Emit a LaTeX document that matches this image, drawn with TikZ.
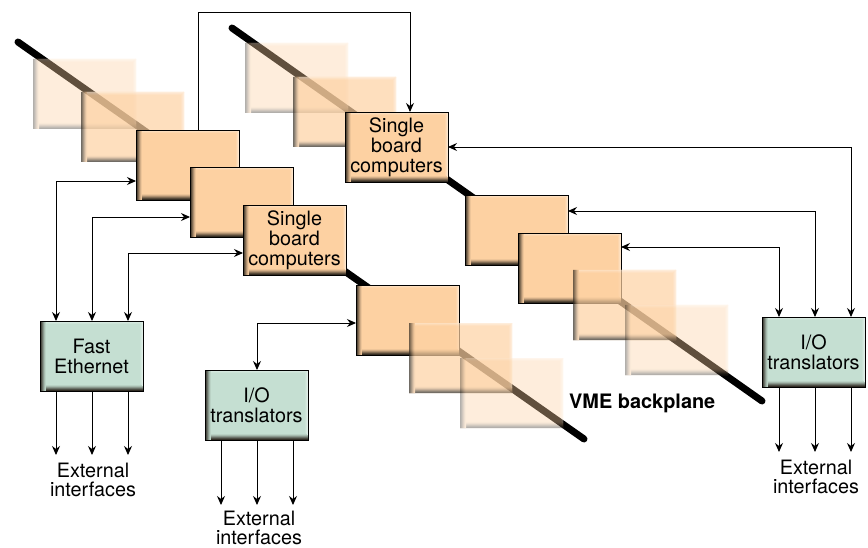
\documentclass[tikz,border=0pt]{standalone}
\usepackage{fontspec}
\setmainfont{TeX Gyre Heros}
\usetikzlibrary{arrows.meta}
\definecolor{boardfill}{HTML}{FDD1A2}
\definecolor{ioface}{HTML}{C5DFD2}
\definecolor{edgedark}{HTML}{2A241C}
\newcommand{\edgestrips}[1]{%
  \foreach \k/\p in {0/95,1/78,2/58,3/38,4/20,5/7}{%
    \fill[edgedark!\p!#1] ([xshift=\k pt]path picture bounding box.north west) rectangle ([xshift=\k pt+1.1pt]path picture bounding box.south west);
    \fill[edgedark!\p!#1] ([xshift=\k pt,yshift=\k pt]path picture bounding box.south west) rectangle ([yshift=\k pt+1.1pt]path picture bounding box.south east);
  }%
  \foreach \k/\p in {0/45,1/28,2/12}{%
    \fill[white!\p!#1] ([xshift=-\k pt-1pt,yshift=-\k pt]path picture bounding box.north east) rectangle ([xshift=-\k pt,yshift=\k pt+5pt]path picture bounding box.south east);
    \fill[white!\p!#1] ([xshift=6pt,yshift=-\k pt]path picture bounding box.north west) rectangle ([xshift=-\k pt,yshift=-\k pt-1pt]path picture bounding box.north east);
  }%
}
\tikzset{
  x=1pt,y=-1pt,
  bevelbox/.style={rectangle,anchor=north west,minimum width=103pt,minimum height=70pt,inner sep=0pt,outer sep=0pt,
    align=center,font=\fontsize{19.8}{20}\selectfont,
    path picture={\edgestrips{#1}}},
  solidboard/.style={bevelbox=boardfill,fill=boardfill,draw=black,line width=0.9pt},
  ghostboard/.style={bevelbox=boardfill,fill=boardfill},
  iobox/.style={bevelbox=ioface,fill=ioface,draw=black,line width=0.9pt},
  backplane/.style={line width=7pt,line cap=round,black},
  biarrow/.style={line width=0.9pt,{Stealth[length=9pt,width=8pt,inset=3pt]}-{Stealth[length=9pt,width=8pt,inset=3pt]}},
  onearrow/.style={line width=0.9pt,-{Stealth[length=9pt,width=8pt,inset=3pt]}},
  caption/.style={align=center,font=\fontsize{19.8}{19.5}\selectfont,inner sep=0pt},
}
\newcommand{\ghostat}[4]{\begin{scope}[transparency group,opacity=#1]\node[ghostboard] (#2) at (#3,#4) {};\end{scope}}
\begin{document}
\begin{tikzpicture}
\useasboundingbox (0,0) rectangle (868,548);
% backplanes
\coordinate (bpLa) at (18,42);
\coordinate (bpLb) at (584,439);
\coordinate (bpRa) at (232,28);
\coordinate (bpRb) at (762,401);
\draw[backplane] (bpLa) -- (bpLb);
\draw[backplane] (bpRa) -- (bpRb);
% left group
\ghostat{.38}{la}{33}{59}
\ghostat{.7}{lb}{81}{92}
\node[solidboard] (l1) at (136,130) {};
\node[solidboard] (l2) at (190,167) {};
\node[solidboard] (l3) at (243,205) {Single\\board\\computers};
\node[solidboard] (l4) at (356,285) {};
\ghostat{.7}{lc}{409}{323}
\ghostat{.38}{ld}{460}{358}
% right group
\ghostat{.38}{ra}{245}{43}
\ghostat{.7}{rb}{293}{77}
\node[solidboard] (r1) at (345,112) {Single\\board\\computers};
\node[solidboard] (r2) at (465,195) {};
\node[solidboard] (r3) at (518,233) {};
\ghostat{.7}{rc}{573}{270}
\ghostat{.38}{rd}{625}{305}
% green boxes
\node[iobox] (fe) at (40,321) {Fast\\Ethernet};
\node[iobox] (io1) at (205,370) {I/O\\translators};
\node[iobox] (io2) at (762,317) {I/O\\translators};
% bend points
\coordinate (topA) at (198,12);
\coordinate (topB) at (410,12);
\coordinate (feA) at (56,181);
\coordinate (feB) at (92,217);
\coordinate (feC) at (128,253);
\coordinate (ioA) at (257,323);
\coordinate (ioR1) at (851,147);
\coordinate (ioR2) at (815,211);
\coordinate (ioR3) at (779,247);
\draw[onearrow] (topA |- l1.north) -- (topA) -- (topB) -- (topB |- r1.north);
\draw[biarrow] (l1.west |- feA) -- (feA) -- (feA |- fe.north);
\draw[biarrow] (l2.west |- feB) -- (feB) -- (feB |- fe.north);
\draw[biarrow] (l3.west |- feC) -- (feC) -- (feC |- fe.north);
\draw[biarrow] (l4.west |- ioA) -- (ioA) -- (ioA |- io1.north);
\draw[biarrow] (r1.east |- ioR1) -- (ioR1) -- (ioR1 |- io2.north);
\draw[biarrow] (r2.east |- ioR2) -- (ioR2) -- (ioR2 |- io2.north);
\draw[biarrow] (r3.east |- ioR3) -- (ioR3) -- (ioR3 |- io2.north);
% outputs
\coordinate (feOa) at (56,455);
\coordinate (feOb) at (92,455);
\coordinate (feOc) at (128,455);
\coordinate (ioOa) at (221,505);
\coordinate (ioOb) at (257,505);
\coordinate (ioOc) at (293,505);
\coordinate (ioPa) at (779,452);
\coordinate (ioPb) at (815,452);
\coordinate (ioPc) at (851,452);
\foreach \c in {feOa,feOb,feOc} \draw[onearrow] (fe.south -| \c) -- (\c);
\foreach \c in {ioOa,ioOb,ioOc} \draw[onearrow] (io1.south -| \c) -- (\c);
\foreach \c in {ioPa,ioPb,ioPc} \draw[onearrow] (io2.south -| \c) -- (\c);
% captions
\node[caption] (capa) at (93,480) {External\\interfaces};
\node[caption] (capb) at (259,528) {External\\interfaces};
\node[caption] (capc) at (816,477) {External\\interfaces};
\node[caption,anchor=west,font=\fontsize{19.9}{20}\selectfont\bfseries] (vme) at (569,403) {VME backplane};
\end{tikzpicture}
\end{document}
